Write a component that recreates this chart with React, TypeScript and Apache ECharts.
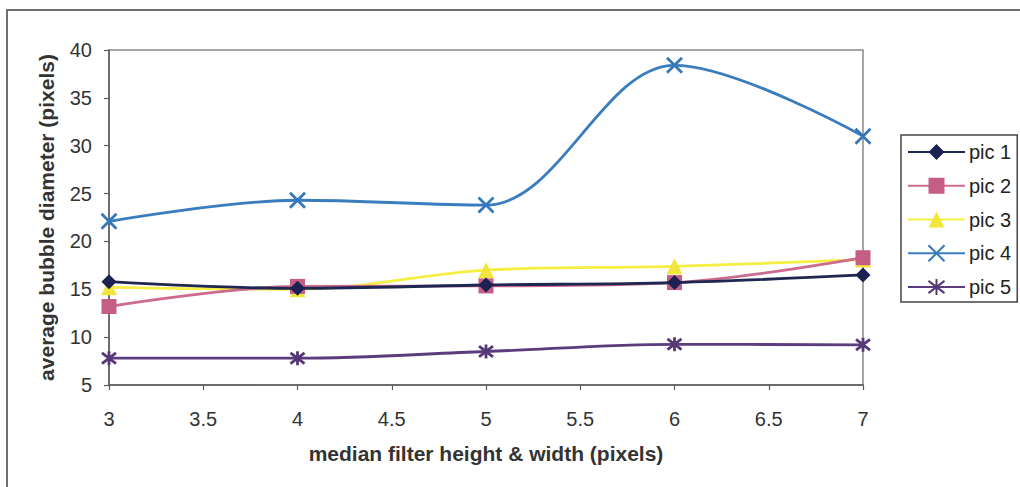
import React, { useEffect, useRef } from "react";
import * as echarts from "echarts";

// Median filter size (x) against average bubble diameter for five pictures
const filterSizes = [3, 4, 5, 6, 7];
const pic1 = [15.8, 15.1, 15.45, 15.7, 16.5];
const pic2 = [13.2, 15.3, 15.35, 15.7, 18.3];
const pic3 = [15.2, 15.0, 17.0, 17.4, 18.1];
const pic4 = [22.1, 24.3, 23.8, 38.4, 31.0];
const pic5 = [7.8, 7.8, 8.5, 9.25, 9.2];

const seriesNames = ["pic 1", "pic 2", "pic 3", "pic 4", "pic 5"];
const xTicks = { min: 3, max: 7, step: 0.5 };
const yTicks = { min: 5, max: 40, step: 5 };

const FONT = "'Liberation Sans', Arial, sans-serif";

const CROSS = "path://M0,0L10,10M10,0L0,10";
const STAR = "path://M0,0L10,10M10,0L0,10M5,-1.5L5,11.5";

const toPairs = (ys: number[]) => filterSizes.map((x, i) => [x, ys[i]]);

export default function App() {
  const ref = useRef<HTMLDivElement>(null);

  useEffect(() => {
    if (!ref.current) return;
    const chart = echarts.init(ref.current, undefined, { renderer: "svg" });

    const defs = [
      { data: pic1, line: "#1e2652", mark: "#1b2150", symbol: "diamond", size: 15, stroke: false },
      { data: pic2, line: "#cc6a8f", mark: "#c65d85", symbol: "rect", size: 15, stroke: false },
      { data: pic3, line: "#f6ee40", mark: "#f2e63a", symbol: "triangle", size: 16, stroke: false },
      { data: pic4, line: "#3a7dbf", mark: "#3478ba", symbol: CROSS, size: 15, stroke: true },
      { data: pic5, line: "#5b3c7c", mark: "#573876", symbol: STAR, size: 14, stroke: true },
    ];

    const series = defs.map((d, i) => ({
      name: seriesNames[i],
      type: "line",
      data: toPairs(d.data),
      smooth: 0.35,
      symbol: d.symbol,
      symbolSize: d.size,
      showAllSymbol: true,
      lineStyle: { color: d.line, width: 2.8 },
      itemStyle: d.stroke
        ? { color: d.mark, borderColor: d.mark, borderWidth: 2.8, opacity: 1 }
        : { color: d.mark, borderWidth: 0 },
      emphasis: { disabled: true },
      z: 10 - i,
    }));

    chart.setOption({
      animation: false,
      backgroundColor: "#ffffff",
      textStyle: { fontFamily: FONT },
      grid: {
        left: 109,
        right: 157,
        top: 50,
        bottom: 102,
        show: true,
        borderColor: "#8a8a8a",
        borderWidth: 1.5,
        backgroundColor: "transparent",
      },
      xAxis: {
        type: "value",
        min: xTicks.min,
        max: xTicks.max,
        interval: xTicks.step,
        name: "median filter height & width (pixels)",
        nameLocation: "middle",
        nameGap: 58,
        nameTextStyle: { fontFamily: FONT, fontSize: 21, fontWeight: "bold", color: "#333" },
        axisLine: { show: true, onZero: false, lineStyle: { color: "#5a5a5a", width: 1.5 } },
        axisTick: { show: true, inside: false, length: 5, lineStyle: { color: "#5a5a5a", width: 1.2 } },
        axisLabel: { fontFamily: FONT, fontSize: 20, color: "#333", margin: 24 },
        splitLine: { show: false },
      },
      yAxis: {
        type: "value",
        min: yTicks.min,
        max: yTicks.max,
        interval: yTicks.step,
        name: "average bubble diameter (pixels)",
        nameLocation: "middle",
        nameRotate: 90,
        nameGap: 52,
        nameTextStyle: { fontFamily: FONT, fontSize: 21, fontWeight: "bold", color: "#333" },
        axisLine: { show: true, onZero: false, lineStyle: { color: "#5a5a5a", width: 1.5 } },
        axisTick: { show: true, inside: false, length: 5, lineStyle: { color: "#5a5a5a", width: 1.2 } },
        axisLabel: { fontFamily: FONT, fontSize: 20, color: "#333", margin: 17 },
        splitLine: { show: false },
      },
      legend: {
        orient: "vertical",
        left: 901,
        top: 135,
        padding: [7, 6, 5, 6],
        itemWidth: 57,
        itemHeight: 20,
        itemGap: 13.75,
        borderColor: "#444",
        borderWidth: 1.5,
        selectedMode: false,
        textStyle: { fontFamily: FONT, fontSize: 20, color: "#222", padding: [0, 0, 0, -1] },
        data: seriesNames,
      },
      graphic: [
        {
          type: "rect",
          shape: { x: 7, y: 10, width: 1040, height: 520 },
          style: { fill: "none", stroke: "#6f6f6f", lineWidth: 2 },
          silent: true,
        },
      ],
      series,
    });

    return () => chart.dispose();
  }, []);

  return (
    <div
      ref={ref}
      style={{ position: "absolute", left: 0, top: 0, width: 1020, height: 487 }}
    />
  );
}
